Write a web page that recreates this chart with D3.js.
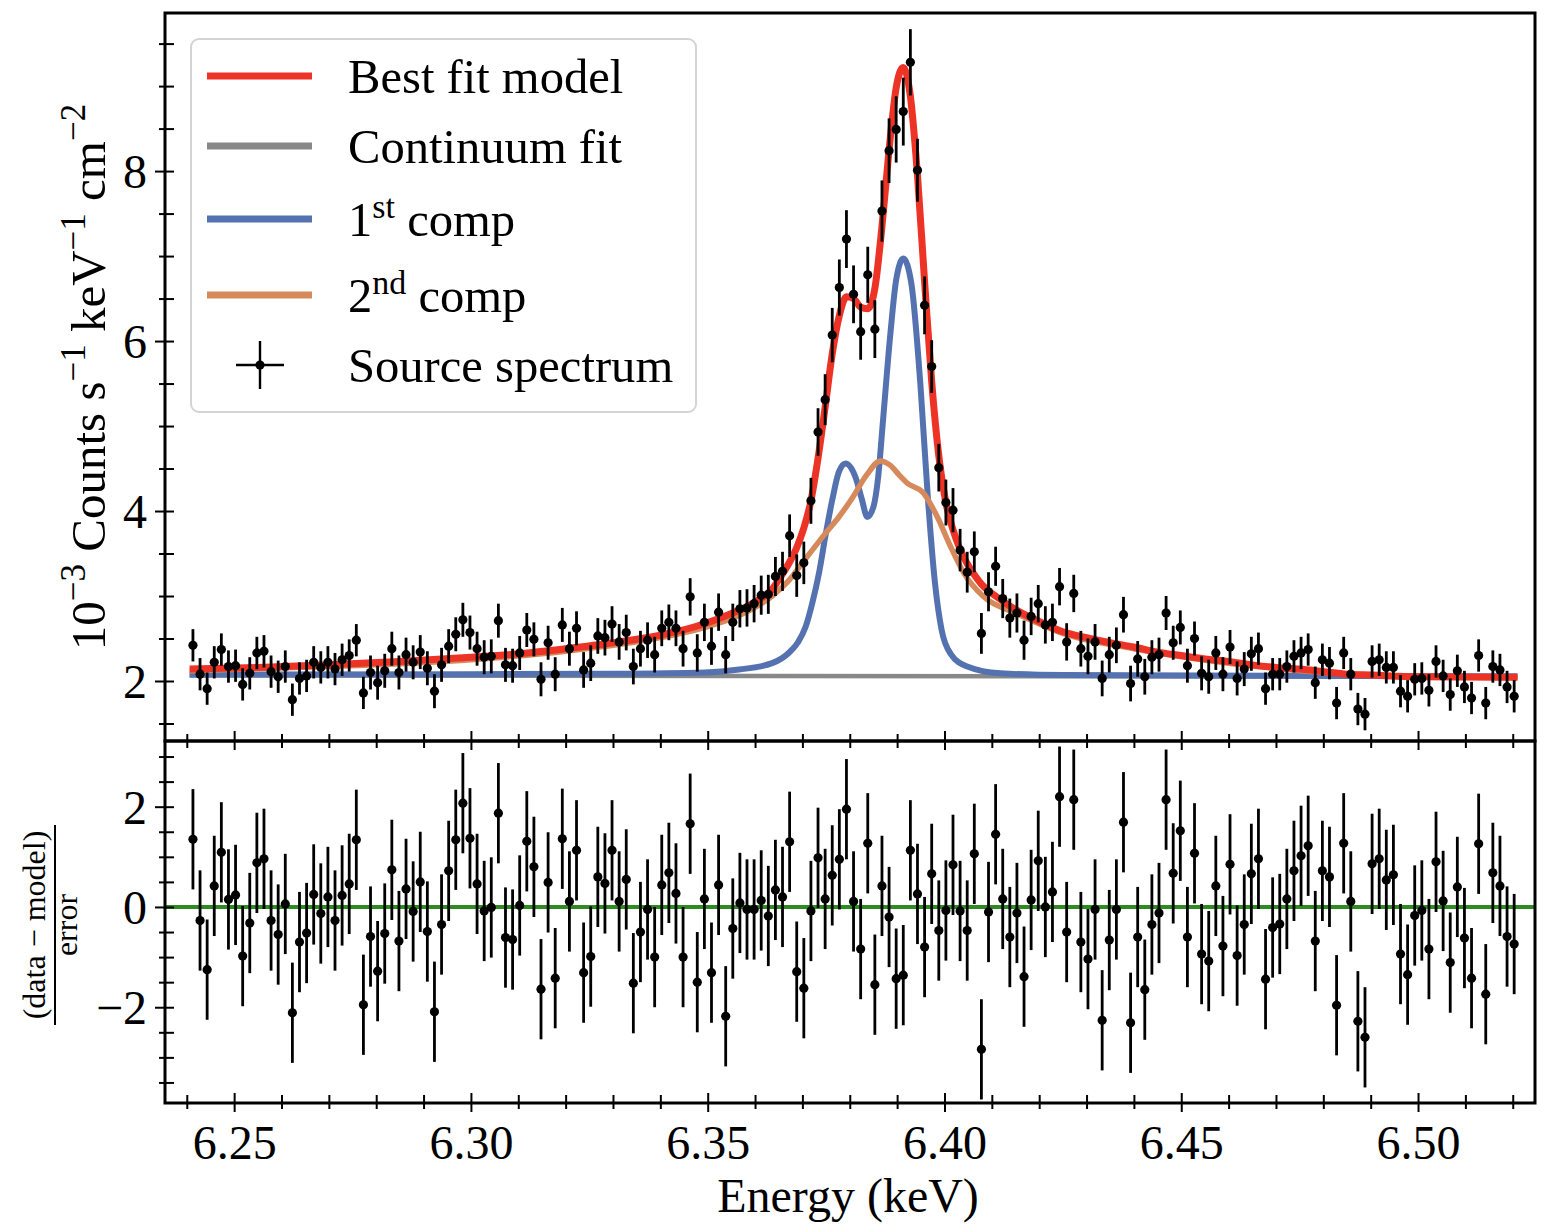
<!DOCTYPE html>
<html>
<head>
<meta charset="utf-8">
<script src="https://cdn.jsdelivr.net/npm/d3@7"></script>
<style>
  body { margin: 0; background: #fff; }
  svg text { font-family: "Liberation Serif", "DejaVu Serif", serif; fill: #000; white-space: pre; }
</style>
</head>
<body>
<svg id="chart" width="1549" height="1232"></svg>
<script>
// spectral bins: first bin centre and width (keV)
const binStart = 6.2413;
const binWidth = 0.0015;

// source spectrum, 10^-3 counts s^-1 keV^-1 cm^-2
const flux = [
  2.42, 2.08, 1.91, 2.22, 2.37, 2.17, 2.18, 1.96, 2.09, 2.33,
  2.35, 2.11, 2.05, 2.17, 1.78, 2.03, 2.06, 2.22, 2.16, 2.22,
  2.14, 2.25, 2.30, 2.48, 1.86, 2.10, 1.98, 2.12, 2.38, 2.10,
  2.31, 2.22, 2.34, 2.15, 1.88, 2.19, 2.41, 2.55, 2.72, 2.57,
  2.38, 2.28, 2.29, 2.71, 2.19, 2.18, 2.33, 2.60, 2.49, 2.02,
  2.45, 2.08, 2.66, 2.38, 2.62, 2.13, 2.21, 2.53, 2.51, 2.67,
  2.46, 2.57, 2.17, 2.38, 2.48, 2.31, 2.62, 2.69, 2.62, 2.38,
  2.99, 2.33, 2.69, 2.41, 2.81, 2.31, 2.69, 2.85, 2.86, 2.91,
  3.01, 3.02, 3.23, 3.29, 3.71, 3.24, 3.39, 4.12, 4.93, 5.31,
  6.07, 6.63, 7.20, 6.55, 6.11, 6.78, 6.14, 7.53, 8.24, 8.49,
  8.70, 9.28, 8.01, 6.42, 5.70, 4.51, 4.10, 4.01, 3.54, 3.28,
  3.52, 2.56, 3.05, 3.35, 2.97, 2.74, 2.80, 2.48, 2.76, 2.91,
  2.66, 2.69, 3.11, 2.46, 3.03, 2.38, 2.29, 2.46, 2.03, 2.31,
  2.42, 2.78, 1.97, 2.26, 2.05, 2.28, 2.31, 2.80, 2.45, 2.63,
  2.18, 2.50, 2.09, 2.05, 2.33, 2.08, 2.40, 2.03, 2.14, 2.32,
  2.38, 1.91, 2.08, 2.08, 2.17, 2.29, 2.33, 2.37, 1.98, 2.25,
  2.21, 1.74, 2.33, 2.08, 1.67, 1.61, 2.23, 2.25, 2.16, 2.16,
  1.88, 1.82, 2.02, 2.03, 1.89, 2.23, 2.06, 1.84, 2.12, 1.93,
  1.80, 2.30, 1.74, 2.17, 2.13, 1.93, 1.82
];

const fluxErr = [
  0.19, 0.19, 0.19, 0.19, 0.19, 0.19, 0.19, 0.19, 0.19, 0.19,
  0.19, 0.19, 0.19, 0.19, 0.19, 0.19, 0.19, 0.19, 0.19, 0.19,
  0.19, 0.19, 0.19, 0.19, 0.19, 0.20, 0.20, 0.20, 0.20, 0.20,
  0.20, 0.20, 0.20, 0.20, 0.20, 0.20, 0.20, 0.20, 0.20, 0.20,
  0.20, 0.20, 0.20, 0.20, 0.20, 0.20, 0.20, 0.20, 0.20, 0.20,
  0.20, 0.20, 0.20, 0.20, 0.20, 0.21, 0.21, 0.21, 0.21, 0.21,
  0.21, 0.21, 0.21, 0.21, 0.21, 0.21, 0.21, 0.21, 0.21, 0.21,
  0.22, 0.22, 0.22, 0.22, 0.22, 0.22, 0.22, 0.22, 0.22, 0.22,
  0.23, 0.23, 0.23, 0.23, 0.25, 0.25, 0.25, 0.27, 0.28, 0.30,
  0.32, 0.33, 0.34, 0.34, 0.33, 0.33, 0.34, 0.36, 0.38, 0.39,
  0.40, 0.39, 0.37, 0.34, 0.31, 0.28, 0.27, 0.26, 0.25, 0.24,
  0.24, 0.24, 0.23, 0.23, 0.23, 0.23, 0.23, 0.23, 0.22, 0.22,
  0.22, 0.22, 0.22, 0.22, 0.22, 0.21, 0.21, 0.21, 0.21, 0.21,
  0.21, 0.21, 0.21, 0.21, 0.21, 0.20, 0.20, 0.20, 0.20, 0.20,
  0.20, 0.20, 0.20, 0.20, 0.20, 0.20, 0.20, 0.20, 0.20, 0.20,
  0.19, 0.19, 0.19, 0.19, 0.19, 0.19, 0.19, 0.19, 0.19, 0.19,
  0.19, 0.19, 0.19, 0.19, 0.19, 0.19, 0.19, 0.19, 0.19, 0.19,
  0.19, 0.19, 0.19, 0.19, 0.19, 0.19, 0.19, 0.19, 0.19, 0.19,
  0.19, 0.19, 0.19, 0.19, 0.19, 0.19, 0.19
];

// (data - model) / error
const residual = [
  1.35, -0.27, -1.25, 0.42, 1.09, 0.15, 0.24, -0.98, -0.32, 0.88,
  0.96, -0.27, -0.55, 0.06, -2.11, -0.70, -0.52, 0.25, -0.13, 0.20,
  -0.27, 0.23, 0.46, 1.34, -1.95, -0.59, -1.28, -0.53, 0.74, -0.68,
  0.36, -0.09, 0.50, -0.49, -2.09, -0.35, 0.72, 1.34, 2.07, 1.37,
  0.46, -0.08, -0.01, 1.87, -0.61, -0.65, 0.03, 1.31, 0.80, -1.64,
  0.49, -1.42, 1.36, 0.11, 1.13, -1.31, -0.99, 0.60, 0.47, 1.13,
  0.11, 0.55, -1.52, -0.50, -0.05, -1.00, 0.44, 0.68, 0.27, -1.00,
  1.66, -1.50, 0.16, -1.31, 0.44, -2.18, -0.43, 0.08, -0.05, -0.05,
  0.13, -0.18, 0.34, 0.20, 1.30, -1.29, -1.62, -0.08, 0.98, 0.16,
  0.63, 0.95, 1.95, 0.11, -0.84, 1.27, -1.55, 0.42, -0.20, -1.43,
  -1.36, 1.13, 0.26, -0.80, 0.66, -0.47, -0.07, 0.84, -0.08, -0.47,
  1.06, -2.84, -0.10, 1.45, 0.16, -0.60, -0.12, -1.39, 0.14, 0.92,
  0.00, 0.30, 2.20, -0.50, 2.14, -0.70, -1.04, -0.05, -2.26, -0.66,
  -0.05, 1.69, -2.31, -0.60, -1.65, -0.35, -0.12, 2.14, 0.67, 1.52,
  -0.60, 1.07, -0.94, -1.08, 0.42, -0.78, 0.85, -0.97, -0.35, 0.66,
  0.96, -1.44, -0.41, -0.34, 0.16, 0.72, 1.02, 1.22, -0.68, 0.72,
  0.60, -1.96, 1.27, 0.11, -2.28, -2.60, 0.86, 0.96, 0.54, 0.64,
  -0.94, -1.35, -0.17, -0.07, -0.84, 0.90, 0.12, -1.11, 0.40, -0.62,
  -1.42, 1.26, -1.74, 0.68, 0.42, -0.59, -0.74
];

// model curves [energy, value]
const bestFit = [
  [6.2406, 2.14], [6.2550, 2.16], [6.2700, 2.19], [6.2850, 2.23], [6.3000, 2.28],
  [6.3100, 2.32], [6.3200, 2.38], [6.3300, 2.45], [6.3400, 2.54], [6.3480, 2.65],
  [6.3540, 2.77], [6.3600, 2.93], [6.3636, 3.08], [6.3658, 3.26], [6.3673, 3.40],
  [6.3688, 3.57], [6.3703, 3.80], [6.3718, 4.12], [6.3733, 4.62], [6.3748, 5.22],
  [6.3763, 5.85], [6.3778, 6.30], [6.3793, 6.52], [6.3808, 6.50], [6.3823, 6.40],
  [6.3838, 6.38], [6.3853, 6.62], [6.3868, 7.35], [6.3883, 8.25], [6.3898, 8.98],
  [6.3913, 9.22], [6.3928, 8.88], [6.3943, 7.95], [6.3958, 6.70], [6.3973, 5.52],
  [6.3988, 4.65], [6.4003, 4.10], [6.4018, 3.78], [6.4033, 3.55], [6.4048, 3.38],
  [6.4063, 3.25], [6.4078, 3.14], [6.4093, 3.06], [6.4108, 3.00], [6.4123, 2.94],
  [6.4150, 2.84], [6.4200, 2.70], [6.4250, 2.58], [6.4300, 2.51], [6.4350, 2.45],
  [6.4400, 2.40], [6.4450, 2.34], [6.4500, 2.30], [6.4550, 2.26], [6.4600, 2.23],
  [6.4650, 2.19], [6.4700, 2.16], [6.4750, 2.14], [6.4800, 2.11], [6.4850, 2.08],
  [6.4900, 2.07], [6.5000, 2.05], [6.5210, 2.045]
];
const continuum = [[6.2406, 2.065], [6.5210, 2.05]];
const comp1 = [
  [6.2406, 2.075], [6.3000, 2.08], [6.3300, 2.085], [6.3495, 2.10], [6.3566, 2.135],
  [6.3636, 2.21], [6.3671, 2.33], [6.3690, 2.45], [6.3707, 2.64], [6.3721, 2.92],
  [6.3735, 3.27], [6.3749, 3.72], [6.3763, 4.13], [6.3777, 4.46], [6.3791, 4.56],
  [6.3812, 4.40], [6.3825, 4.15], [6.3837, 3.93], [6.3850, 4.05], [6.3860, 4.40],
  [6.3870, 5.05], [6.3886, 6.10], [6.3898, 6.72], [6.3913, 6.97], [6.3930, 6.68],
  [6.3949, 5.50], [6.3965, 4.15], [6.3980, 3.15], [6.3994, 2.60], [6.4013, 2.32],
  [6.4048, 2.17], [6.4118, 2.09], [6.4250, 2.07], [6.5210, 2.055]
];
const comp2 = [
  [6.2406, 2.12], [6.2700, 2.17], [6.3000, 2.25], [6.3200, 2.35], [6.3400, 2.51],
  [6.3500, 2.64], [6.3566, 2.77], [6.3636, 3.00], [6.3671, 3.18], [6.3707, 3.44],
  [6.3749, 3.74], [6.3777, 3.93], [6.3805, 4.15], [6.3835, 4.42], [6.3865, 4.59],
  [6.3885, 4.54], [6.3905, 4.42], [6.3921, 4.33], [6.3956, 4.21], [6.3985, 3.93],
  [6.4013, 3.58], [6.4041, 3.27], [6.4083, 2.99], [6.4150, 2.80], [6.4250, 2.56],
  [6.4400, 2.38], [6.4600, 2.21], [6.4800, 2.10], [6.5000, 2.05], [6.5210, 2.04]
];

const xMajor = [6.25, 6.30, 6.35, 6.40, 6.45, 6.50];
const xMinor = [6.24, 6.26, 6.27, 6.28, 6.29, 6.31, 6.32, 6.33, 6.34, 6.36, 6.37, 6.38, 6.39,
                6.41, 6.42, 6.43, 6.44, 6.46, 6.47, 6.48, 6.49, 6.51, 6.52];
const yTopMajor = [2, 4, 6, 8];
const yTopMinor = [1.5, 2.5, 3, 3.5, 4.5, 5, 5.5, 6.5, 7, 7.5, 8.5, 9, 9.5];
const yBotMajor = [-2, 0, 2];
const yBotMinor = [-3.5, -3, -2.5, -1.5, -1, -0.5, 0.5, 1, 1.5, 2.5, 3];

const legendItems = [
  {label: 'Best fit model', color: '#ec3326'},
  {label: 'Continuum fit', color: '#888888'},
  {label: '1', sup: 'st', rest: ' comp', color: '#5572b0'},
  {label: '2', sup: 'nd', rest: ' comp', color: '#d68a5c'},
  {label: 'Source spectrum', marker: true}
];

const L = 165, R = 1535, T = 13, M = 741, B = 1103;
const svg = d3.select('#chart');

const x = d3.scaleLinear().domain([6.2354, 6.5247]).range([L, R]);
const yTop = d3.scaleLinear().domain([1.294, 9.86]).range([M, T]);
const yBot = d3.scaleLinear().domain([-3.91, 3.31]).range([B, M]);

const energy = d3.range(flux.length).map(i => binStart + i * binWidth);
const pts = flux.map((v, i) => ({e: energy[i], v: v, err: fluxErr[i], r: residual[i]}));

svg.append('clipPath').attr('id', 'clipTop')
  .append('rect').attr('x', L).attr('y', T).attr('width', R - L).attr('height', M - T);
svg.append('clipPath').attr('id', 'clipBot')
  .append('rect').attr('x', L).attr('y', M).attr('width', R - L).attr('height', B - M);

// ---- spectrum panel
const specG = svg.append('g').attr('clip-path', 'url(#clipTop)');
const line = d3.line().x(d => x(d[0])).y(d => yTop(d[1])).curve(d3.curveMonotoneX);

specG.append('path').attr('d', line(continuum)).attr('fill', 'none')
  .attr('stroke', '#888888').attr('stroke-width', 4.5);
specG.append('path').attr('d', line(comp1)).attr('fill', 'none')
  .attr('stroke', '#5572b0').attr('stroke-width', 6);
specG.append('path').attr('d', line(comp2)).attr('fill', 'none')
  .attr('stroke', '#d68a5c').attr('stroke-width', 5.5);
specG.append('path').attr('d', line(bestFit)).attr('fill', 'none')
  .attr('stroke', '#ec3326').attr('stroke-width', 7);

specG.selectAll('line.ey').data(pts).join('line').attr('class', 'ey')
  .attr('x1', d => x(d.e)).attr('x2', d => x(d.e))
  .attr('y1', d => yTop(d.v - d.err)).attr('y2', d => yTop(d.v + d.err))
  .attr('stroke', '#000').attr('stroke-width', 2.8);
specG.selectAll('line.ex').data(pts).join('line').attr('class', 'ex')
  .attr('x1', d => x(d.e - binWidth / 2)).attr('x2', d => x(d.e + binWidth / 2))
  .attr('y1', d => yTop(d.v)).attr('y2', d => yTop(d.v))
  .attr('stroke', '#000').attr('stroke-width', 2.8);
specG.selectAll('circle').data(pts).join('circle')
  .attr('cx', d => x(d.e)).attr('cy', d => yTop(d.v)).attr('r', 4.6).attr('fill', '#000');

// ---- residual panel
const resG = svg.append('g').attr('clip-path', 'url(#clipBot)');
resG.append('line').attr('x1', L).attr('x2', R).attr('y1', yBot(0)).attr('y2', yBot(0))
  .attr('stroke', '#2e8b21').attr('stroke-width', 4);
resG.selectAll('line.ey').data(pts).join('line').attr('class', 'ey')
  .attr('x1', d => x(d.e)).attr('x2', d => x(d.e))
  .attr('y1', d => yBot(d.r - 1)).attr('y2', d => yBot(d.r + 1))
  .attr('stroke', '#000').attr('stroke-width', 2.8);
resG.selectAll('line.ex').data(pts).join('line').attr('class', 'ex')
  .attr('x1', d => x(d.e - binWidth / 2)).attr('x2', d => x(d.e + binWidth / 2))
  .attr('y1', d => yBot(d.r)).attr('y2', d => yBot(d.r))
  .attr('stroke', '#000').attr('stroke-width', 2.8);
resG.selectAll('circle').data(pts).join('circle')
  .attr('cx', d => x(d.e)).attr('cy', d => yBot(d.r)).attr('r', 4.6).attr('fill', '#000');

// ---- ticks (in-out style)
function ticks(orient, scale, pos, values, inner, outer, fmt) {
  const make = orient === 'bottom' ? d3.axisBottom : orient === 'top' ? d3.axisTop : d3.axisLeft;
  const axis = make(scale).tickValues(values).tickSize(outer).tickFormat(fmt || (() => ''));
  const g = svg.append('g')
    .attr('transform', orient === 'left' ? `translate(${pos},0)` : `translate(0,${pos})`)
    .call(axis);
  g.select('.domain').remove();
  g.selectAll('.tick line').attr('stroke', '#000').attr('stroke-width', 2);
  if (orient === 'left') g.selectAll('.tick line').attr('x1', inner);
  if (orient === 'bottom') g.selectAll('.tick line').attr('y1', -inner);
  if (orient === 'top') g.selectAll('.tick line').attr('y1', inner);
  g.selectAll('.tick text').attr('font-size', 48);
  return g;
}

// divider: spectrum panel bottom ticks reach into the residual panel
ticks('bottom', x, M, xMajor, 10, 9);
ticks('bottom', x, M, xMinor, 7, 7);
const xAx = ticks('bottom', x, B, xMajor, 10, 9, d3.format('.2f'));
ticks('bottom', x, B, xMinor, 8, 6);
xAx.selectAll('.tick text').attr('y', 22).attr('dy', '0.71em');

const yTAx = ticks('left', yTop, L, yTopMajor, 9, 10, d3.format('d'));
ticks('left', yTop, L, yTopMinor, 9, 6);
yTAx.selectAll('.tick text').attr('x', -18).attr('dy', '0.34em');
const yBAx = ticks('left', yBot, L, yBotMajor, 9, 10, d3.format('d'));
ticks('left', yBot, L, yBotMinor, 9, 6);
yBAx.selectAll('.tick text').attr('x', -18).attr('dy', '0.34em');

// frames
svg.append('rect').attr('x', L).attr('y', T).attr('width', R - L).attr('height', M - T)
  .attr('fill', 'none').attr('stroke', '#000').attr('stroke-width', 3);
svg.append('rect').attr('x', L).attr('y', M).attr('width', R - L).attr('height', B - M)
  .attr('fill', 'none').attr('stroke', '#000').attr('stroke-width', 3);

// ---- axis labels
svg.append('text').attr('x', (L + R) / 2 - 2).attr('y', 1212)
  .attr('text-anchor', 'middle').attr('font-size', 48).text('Energy (keV)');

const yl = svg.append('text').attr('transform', 'translate(105,377) rotate(-90)')
  .attr('text-anchor', 'middle').attr('font-size', 49);
yl.append('tspan').text('10');
yl.append('tspan').attr('font-size', 35).attr('dy', -20).text('\u22123');
yl.append('tspan').attr('dy', 20).text(' Counts s');
yl.append('tspan').attr('font-size', 35).attr('dy', -20).text('\u22121');
yl.append('tspan').attr('dy', 20).text(' keV');
yl.append('tspan').attr('font-size', 35).attr('dy', -20).text('\u22121');
yl.append('tspan').attr('dy', 20).text(' cm');
yl.append('tspan').attr('font-size', 35).attr('dy', -20).text('\u22122');

const frac = svg.append('g').attr('transform', 'translate(55,925) rotate(-90)');
frac.append('text').attr('x', 0).attr('y', -10).attr('text-anchor', 'middle')
  .attr('font-size', 32).text('(data \u2212 model)');
frac.append('line').attr('x1', -100).attr('x2', 100).attr('y1', 0).attr('y2', 0)
  .attr('stroke', '#000').attr('stroke-width', 2);
frac.append('text').attr('x', 0).attr('y', 22).attr('text-anchor', 'middle')
  .attr('font-size', 32).text('error');

// ---- legend
const leg = svg.append('g');
leg.append('rect').attr('x', 191).attr('y', 39).attr('width', 505).attr('height', 373)
  .attr('rx', 8).attr('fill', '#fff').attr('fill-opacity', 0.85)
  .attr('stroke', '#d4d4d4').attr('stroke-width', 2);
const rowY = [76, 146, 219, 295, 365];
legendItems.forEach((it, i) => {
  const y0 = rowY[i];
  if (it.marker) {
    leg.append('line').attr('x1', 236).attr('x2', 284).attr('y1', y0).attr('y2', y0)
      .attr('stroke', '#000').attr('stroke-width', 2.4);
    leg.append('line').attr('x1', 260).attr('x2', 260).attr('y1', y0 - 24).attr('y2', y0 + 24)
      .attr('stroke', '#000').attr('stroke-width', 2.4);
    leg.append('circle').attr('cx', 260).attr('cy', y0).attr('r', 4.6).attr('fill', '#000');
  } else {
    leg.append('line').attr('x1', 207).attr('x2', 312).attr('y1', y0).attr('y2', y0)
      .attr('stroke', it.color).attr('stroke-width', 7);
  }
  const t = leg.append('text').attr('x', 348).attr('y', y0 + 17).attr('font-size', 48.6);
  t.append('tspan').text(it.label);
  if (it.sup) {
    t.append('tspan').attr('font-size', 34).attr('dy', -18).text(it.sup);
    t.append('tspan').attr('dy', 18).text(it.rest);
  }
});
</script>
</body>
</html>
